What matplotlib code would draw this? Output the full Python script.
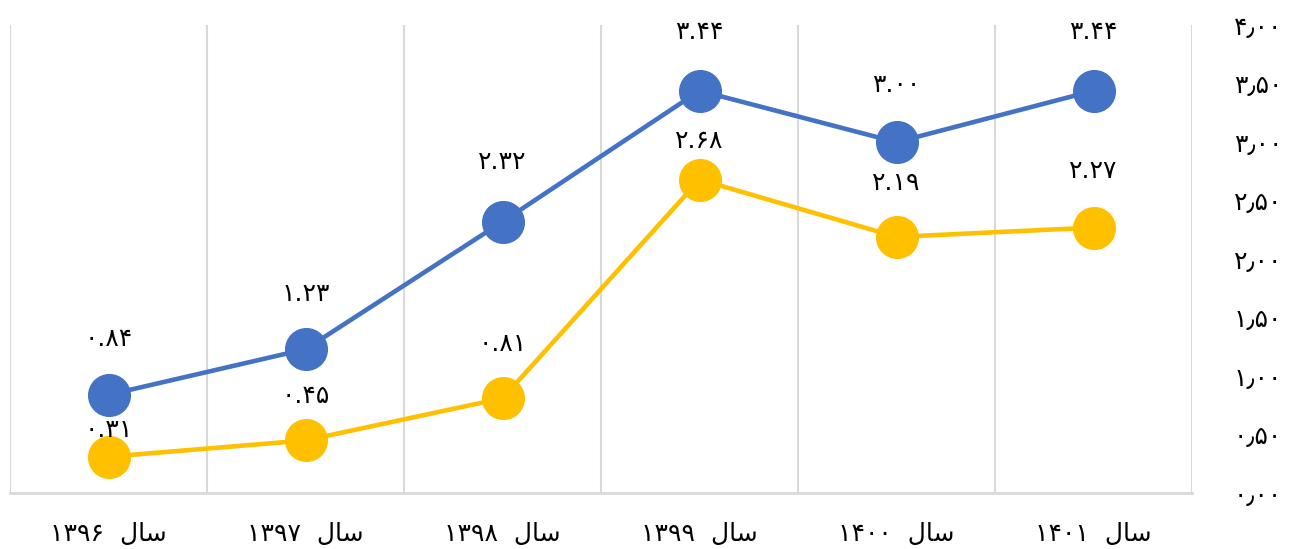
import matplotlib
matplotlib.use("Agg")
import matplotlib.pyplot as plt

# data
years = ["۱۳۹۶", "۱۳۹۷", "۱۳۹۸", "۱۳۹۹", "۱۴۰۰", "۱۴۰۱"]
blue_vals = [0.84, 1.23, 2.32, 3.44, 3.00, 3.44]
gold_vals = [0.31, 0.45, 0.81, 2.68, 2.19, 2.27]
y_ticks = [0.0, 0.5, 1.0, 1.5, 2.0, 2.5, 3.0, 3.5, 4.0]

# label offsets (points above marker)
blue_off = [40, 40, 43, 42, 41, 42]
gold_off = [19, 32, 39, 28, 39, 41]

fa_digits = str.maketrans("0123456789", "۰۱۲۳۴۵۶۷۸۹")
# "سال" in presentation forms, visual left-to-right order
sal = "\ufedd\ufe8e\ufeb3"


def fa(v, sep="."):
    return f"{v:.2f}".replace(".", sep).translate(fa_digits)


plt.rcParams["font.family"] = ["DejaVu Sans"]
blue = "#4472C4"
gold = "#FFC000"
grid_c = "#D9D9D9"

fig = plt.figure(figsize=(12.89, 5.49), dpi=100)
ax = fig.add_axes([0.0078, 0.102, 0.917, 0.852])

x = list(range(len(years)))
ax.plot(x, blue_vals, color=blue, lw=3.3, marker="o", ms=30, zorder=3)
ax.plot(x, gold_vals, color=gold, lw=3.3, marker="o", ms=30, zorder=3)

for i, v in enumerate(blue_vals):
    ax.annotate(fa(v), (i, v), xytext=(0, blue_off[i]), textcoords="offset points",
                ha="center", va="center", fontsize=18, color="black", zorder=4)
for i, v in enumerate(gold_vals):
    ax.annotate(fa(v), (i, v), xytext=(0, gold_off[i]), textcoords="offset points",
                ha="center", va="center", fontsize=18, color="black", zorder=4)

ax.set_xlim(-0.5, len(years) - 0.5)
ax.set_ylim(0, 4)
for b in range(len(years) + 1):
    ax.axvline(b - 0.5, color=grid_c, lw=1.5, zorder=1)

for s in ["top", "right", "left"]:
    ax.spines[s].set_visible(False)
ax.spines["bottom"].set_color(grid_c)
ax.spines["bottom"].set_linewidth(2)

ax.set_xticks(x)
ax.set_xticklabels([f"{y}  {sal}" for y in years], fontsize=18)
ax.tick_params(axis="x", length=0, pad=21)

ax.yaxis.tick_right()
ax.set_yticks(y_ticks)
ax.set_yticklabels([fa(t, "٫") for t in y_ticks], fontsize=18)
ax.tick_params(axis="y", length=0, pad=30)

fig.savefig("out.png", dpi=100)
